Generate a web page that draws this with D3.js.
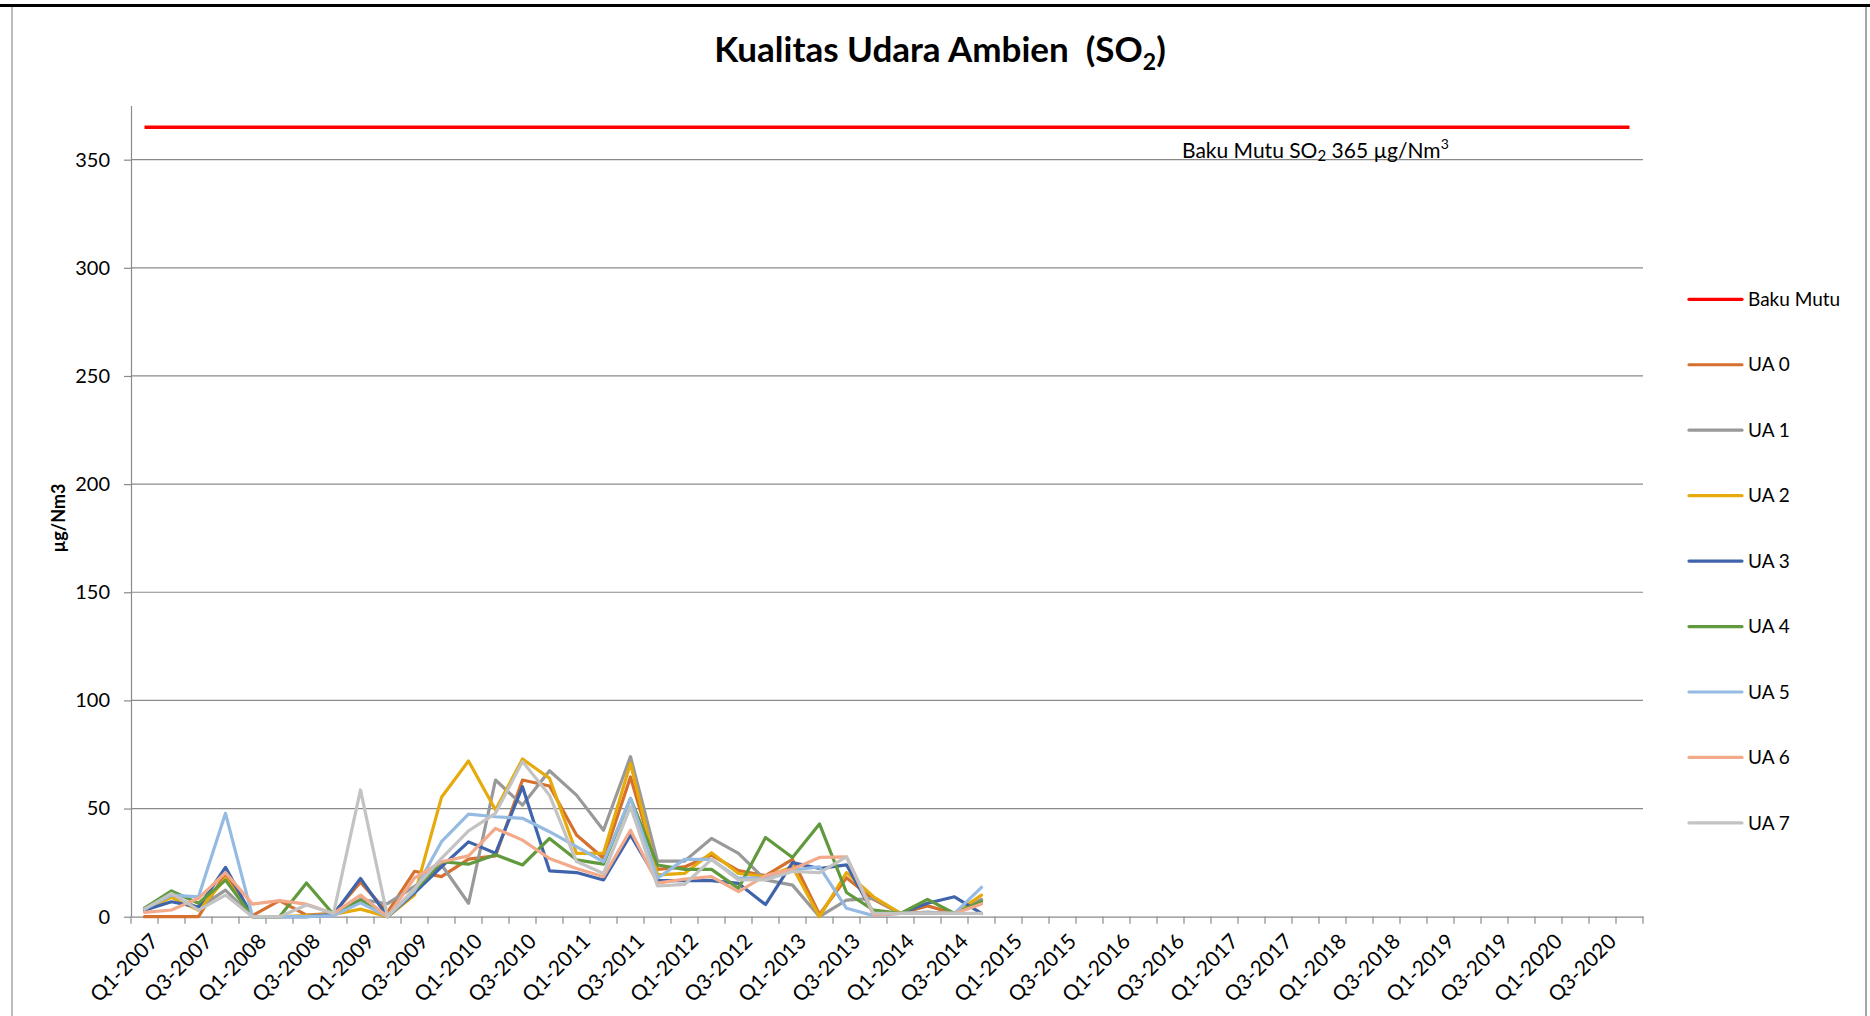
<!DOCTYPE html>
<html><head><meta charset="utf-8">
<script src="https://cdn.jsdelivr.net/npm/d3@7"></script>
<style>
body{margin:0;background:#fff;}
svg{display:block;}
text{font-family:Lato,'Open Sans',sans-serif;fill:#000;}
</style>
</head><body>
<svg id="chart" width="1870" height="1016"></svg>
<script>
const categories = [
 "Q1-2007","Q2-2007","Q3-2007","Q4-2007","Q1-2008","Q2-2008","Q3-2008","Q4-2008",
 "Q1-2009","Q2-2009","Q3-2009","Q4-2009","Q1-2010","Q2-2010","Q3-2010","Q4-2010",
 "Q1-2011","Q2-2011","Q3-2011","Q4-2011","Q1-2012","Q2-2012","Q3-2012","Q4-2012",
 "Q1-2013","Q2-2013","Q3-2013","Q4-2013","Q1-2014","Q2-2014","Q3-2014","Q4-2014",
 "Q1-2015","Q2-2015","Q3-2015","Q4-2015","Q1-2016","Q2-2016","Q3-2016","Q4-2016",
 "Q1-2017","Q2-2017","Q3-2017","Q4-2017","Q1-2018","Q2-2018","Q3-2018","Q4-2018",
 "Q1-2019","Q2-2019","Q3-2019","Q4-2019","Q1-2020","Q2-2020","Q3-2020","Q4-2020"
];
const tickLabels = [
 "Q1-2007","Q3-2007","Q1-2008","Q3-2008","Q1-2009","Q3-2009","Q1-2010","Q3-2010",
 "Q1-2011","Q3-2011","Q1-2012","Q3-2012","Q1-2013","Q3-2013","Q1-2014","Q3-2014",
 "Q1-2015","Q3-2015","Q1-2016","Q3-2016","Q1-2017","Q3-2017","Q1-2018","Q3-2018",
 "Q1-2019","Q3-2019","Q1-2020","Q3-2020"
];
const yTicks = [0, 50, 100, 150, 200, 250, 300, 350];
const bakuMutu = 365;

const seriesNames = ["UA 0","UA 1","UA 2","UA 3","UA 4","UA 5","UA 6","UA 7"];
const ua0 = [0,0,0,20,0.5,7.4,0.7,1.5,16,2,21,18.5,26.6,28.1,63.2,60.4,37.8,27,64.6,21.9,23,28.5,21.3,19,26.5,1,18,8,1.5,5,1.5,7.7];
const ua1 = [3.5,10,4,12.3,0,0,0,1.5,8,6,14,24,6.2,63.2,51.6,67.5,56.2,40,74,25.7,25.7,36.2,29.3,17,14.6,0,7.7,8.5,1.5,2,1.5,8];
const ua2 = [3,9,3,17.6,0,0,0.5,1,3.5,0,10,55.2,72,49.3,72.9,64,29.3,29.3,70.9,19.3,20,29.6,20,18.5,23,0,20.4,9.2,1.5,2,1.5,10];
const ua3 = [3,6.9,4.4,22.8,0,0,0,1,17.7,0,11,23.1,34.6,29.3,60.1,21.2,20.4,17,37.8,16.7,16.7,16.7,15.4,5.6,25,22.3,24,1.5,1.5,6.2,9.2,1.5];
const ua4 = [4,11.9,6.2,16.9,0,0,15.6,1,7.7,0,12,25.4,24.3,28.6,23.9,36.2,26.3,24.3,54.7,23.9,21.9,21.9,13.1,36.6,27.4,42.9,11.2,3,1.5,8,1.5,7];
const ua5 = [3.5,10,9.2,47.8,0,0,0,0.5,6.4,0,12,34.7,47.4,46.2,45.5,39.3,32.4,25.4,54.7,17.8,26.5,26.5,17.8,17.8,21.6,23,3.9,0.5,1.5,2,1.5,13.6];
const ua6 = [2,3.1,8.5,20.4,5.8,7.4,5.8,1.5,10,0,18,25.4,28.1,40.8,35.4,26.9,22.3,18.5,40,15.5,17.4,18.5,11.6,19,22,27.4,27.7,0.8,1.5,1.5,1.5,5.9];
const ua7 = [3.5,10.8,3,10,0,0,5.4,1.5,58.6,0,13,27,39.7,47.8,71.7,56.2,25.5,20,50.8,14.2,14.9,26.5,17,17,20.9,20.4,27.7,1.6,1.5,1.5,1.5,1.5];
const seriesValues = [ua0, ua1, ua2, ua3, ua4, ua5, ua6, ua7];
const seriesColors = ["#D5702E","#999999","#E6AA0C","#3F64AB","#61993D","#96BBE2","#F2AA8B","#C3C3C3"];
const limitColor = "#FF0000";

const svg = d3.select("#chart");
const plot = {left:131, right:1643, top:105.6, bottom:916.7};

const x = d3.scaleBand().domain(categories).range([plot.left, plot.right]).padding(0);
const xc = c => x(c) + x.bandwidth()/2;
const y = d3.scaleLinear().domain([0, 375]).range([plot.bottom, plot.top]);
const gridColor = "#8A8A8A";

// frame
svg.append("line").attr("x1",0).attr("x2",1870).attr("y1",5.5).attr("y2",5.5).attr("stroke","#000").attr("stroke-width",3);
svg.append("line").attr("x1",12).attr("x2",12).attr("y1",7).attr("y2",1016).attr("stroke","#A6A6A6").attr("stroke-width",1.5);
svg.append("line").attr("x1",1866).attr("x2",1866).attr("y1",7).attr("y2",1016).attr("stroke","#A6A6A6").attr("stroke-width",2);

// title
const title = svg.append("text").attr("x",940).attr("y",62).attr("text-anchor","middle")
  .attr("font-size",35).attr("font-weight","bold");
title.append("tspan").text("Kualitas Udara Ambien\u00A0\u00A0(SO");
title.append("tspan").attr("font-size",23).attr("dy",8).text("2");
title.append("tspan").attr("dy",-8).text(")");

// gridlines
svg.append("g").selectAll("line").data(yTicks.filter(d=>d>0)).join("line")
  .attr("x1",plot.left).attr("x2",plot.right)
  .attr("y1",d=>y(d)).attr("y2",d=>y(d))
  .attr("stroke",gridColor).attr("stroke-width",1.2);

// y axis
const yAxis = svg.append("g").attr("transform",`translate(${plot.left},0)`)
  .call(d3.axisLeft(y).tickValues(yTicks).tickSize(7).tickPadding(14).tickSizeOuter(0));
yAxis.select(".domain").attr("stroke",gridColor).attr("stroke-width",1.2);
yAxis.selectAll(".tick line").attr("stroke",gridColor).attr("stroke-width",1.2);
yAxis.selectAll("text").attr("font-size",20).attr("font-family","Lato, sans-serif").attr("fill","#000");

// y label
svg.append("text").attr("transform","translate(60,518) rotate(-90)").attr("text-anchor","middle")
  .attr("dominant-baseline","middle").attr("font-size",18).attr("font-weight","bold").text("µg/Nm3");

// x axis
const xAxis = svg.append("g").attr("transform",`translate(0,${plot.bottom})`)
  .call(d3.axisBottom(x).tickValues(tickLabels).tickSize(0).tickSizeOuter(0));
xAxis.select(".domain").attr("stroke",gridColor).attr("stroke-width",1.2);
xAxis.selectAll("text").attr("font-size",21).attr("font-family","Lato, sans-serif").attr("fill","#000")
  .attr("text-anchor","end").attr("dy",0).attr("y",0)
  .attr("transform","translate(15,26) rotate(-45)");
// category boundary ticks
svg.append("g").selectAll("line").data(categories.concat(["__end"])).join("line")
  .attr("x1",(d,i)=> i < categories.length ? x(d) : plot.right)
  .attr("x2",(d,i)=> i < categories.length ? x(d) : plot.right)
  .attr("y1",plot.bottom).attr("y2",plot.bottom+7)
  .attr("stroke",gridColor).attr("stroke-width",1.2);

// limit line
svg.append("line")
  .attr("x1",xc(categories[0])).attr("x2",xc(categories[categories.length-1]))
  .attr("y1",y(bakuMutu)).attr("y2",y(bakuMutu))
  .attr("stroke",limitColor).attr("stroke-width",3.5);

// limit annotation
const ann = svg.append("text").attr("x",1182).attr("y",158).attr("font-size",21);
ann.append("tspan").text("Baku Mutu SO");
ann.append("tspan").attr("font-size",15).attr("dy",3).text("2");
ann.append("tspan").attr("dy",-3).text(" 365 µg/Nm");
ann.append("tspan").attr("font-size",14).attr("dy",-9).text("3");

// series
const line = d3.line().x((d,i)=>xc(categories[i])).y(d=>y(d));
seriesValues.forEach((vals,k)=>{
  svg.append("path").datum(vals).attr("d",line)
    .attr("fill","none").attr("stroke",seriesColors[k]).attr("stroke-width",3.2)
    .attr("stroke-linejoin","round").attr("stroke-linecap","round");
});

// legend
const legendItems = [{name:"Baku Mutu",color:limitColor}].concat(seriesNames.map((n,k)=>({name:n,color:seriesColors[k]})));
const lg = svg.append("g").selectAll("g").data(legendItems).join("g")
  .attr("transform",(d,i)=>`translate(1689,${299.3 + i*65.45})`);
lg.append("line").attr("x1",0).attr("x2",53).attr("stroke",d=>d.color).attr("stroke-width",3.2).attr("stroke-linecap","round");
lg.append("text").attr("x",59).attr("dy","0.35em").attr("font-size",19).text(d=>d.name);
</script>
</body></html>
